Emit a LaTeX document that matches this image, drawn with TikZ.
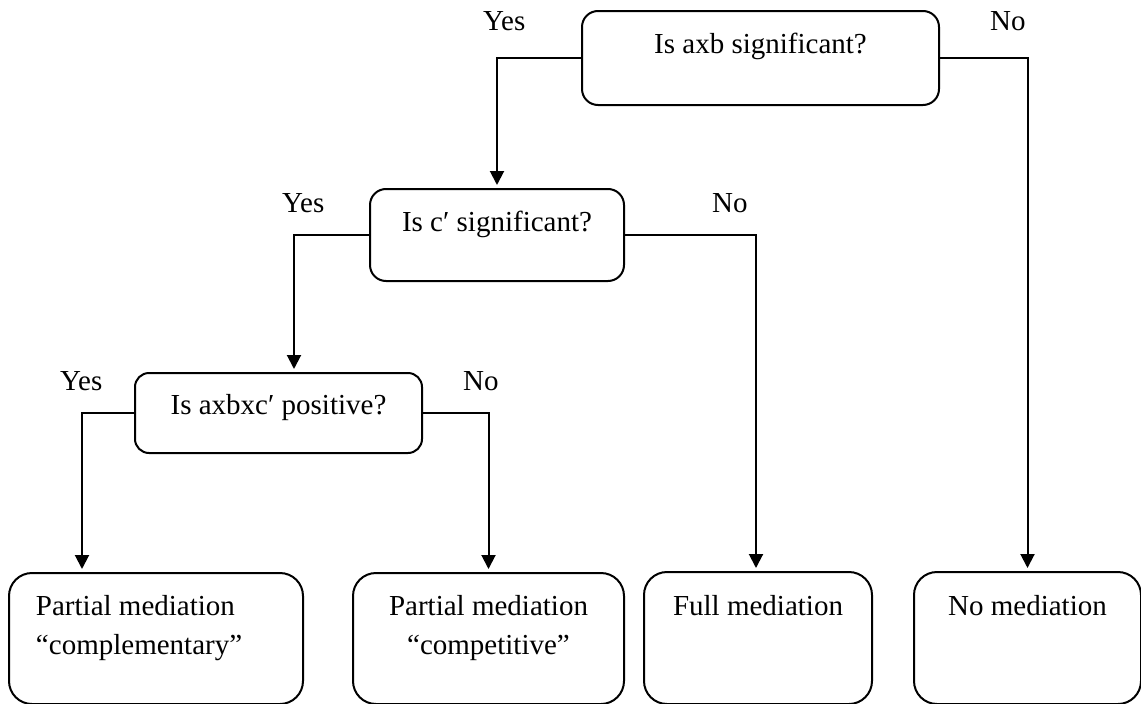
\documentclass[tikz,border=0pt]{standalone}
\usepackage{fontspec}
\setmainfont{Liberation Serif}
\usetikzlibrary{arrows.meta}
\begin{document}
\begin{tikzpicture}[x=1pt,y=-1pt,
  every node/.style={font=\fontsize{29}{39}\selectfont},
  decision/.style={draw, line width=2pt, rounded corners=16pt, inner sep=0pt, anchor=north west},
  outcome/.style={draw, line width=2pt, rounded corners=23pt, inner sep=0pt, anchor=north west},
  flow/.style={line width=2pt, -{Triangle[width=14pt,length=14pt]}, shorten >=3pt},
  answer/.style={anchor=base west, inner sep=0pt}]
\useasboundingbox (0,0) rectangle (1141,704);

% decision boxes
\node[decision, minimum width=357pt, text height=42pt, text depth=52pt] (q1) at (581,10) {Is axb significant?};
\node[decision, minimum width=254pt, text height=42pt, text depth=50pt] (q2) at (369,188) {Is c′ significant?};
\node[decision, minimum width=287pt, text height=41pt, text depth=39pt, rounded corners=14pt] (q3) at (134,372) {Is axbxc′ positive?};

% outcome boxes
\node[outcome, text height=42pt, text depth=89pt] (r1) at (8,572)
  {\makebox[294pt][l]{\hspace{27pt}\begin{tabular}[t]{@{}l@{}}Partial mediation\\“complementary”\end{tabular}}};
\node[outcome, minimum width=271pt, text height=42pt, text depth=89pt] (r2) at (352,572)
  {\begin{tabular}[t]{@{}c@{}}Partial mediation\\“competitive”\end{tabular}};
\node[outcome, minimum width=228pt, text height=43pt, text depth=89pt] (r3) at (643,571) {Full mediation};
\node[outcome, minimum width=227pt, text height=43pt, text depth=89pt] (r4) at (913,571) {No mediation};

% connectors
\draw[flow] (q1.west) -| (q2.north);
\draw[flow] (q1.east) -| (r4.north);
\draw[flow] (q2.west) -| ([xshift=15.5pt]q3.north);
\draw[flow] (q2.east) -| ([xshift=-2pt]r3.north);
\draw[flow] (q3.west) -| ([xshift=-74pt]r1.north);
\draw[flow] (q3.east) -| (r2.north);

% branch answers
\node[answer] (yes1) at (483,30) {Yes};
\node[answer] (no1) at (990,30) {No};
\node[answer] (yes2) at (282,212) {Yes};
\node[answer] (no2) at (712,212) {No};
\node[answer] (yes3) at (60,390) {Yes};
\node[answer] (no3) at (463,390) {No};
\end{tikzpicture}
\end{document}
